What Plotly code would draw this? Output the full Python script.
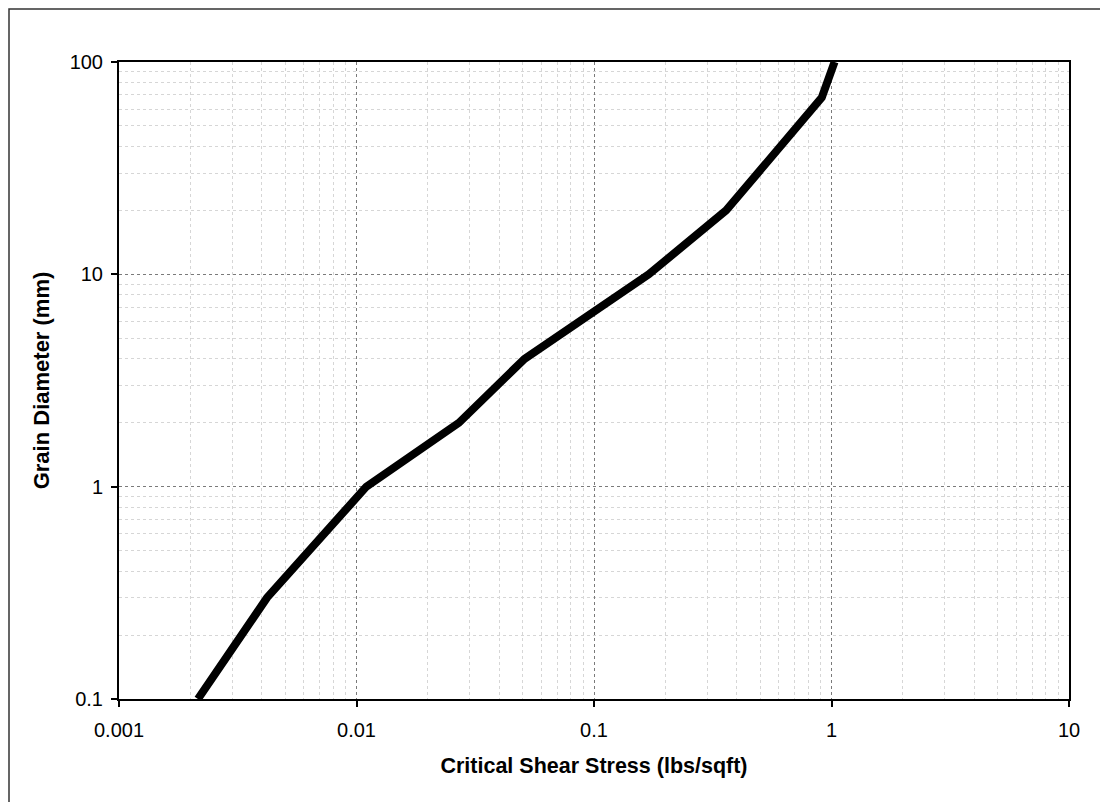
import plotly.graph_objects as go

# Critical shear stress (lbs/sqft) vs grain diameter (mm)
shear_stress = [0.00215, 0.0033, 0.0042, 0.011, 0.027, 0.051, 0.17, 0.36, 0.91, 1.03]
grain_diameter = [0.1, 0.2, 0.3, 1.0, 2.0, 4.0, 10.0, 20.0, 68.0, 100.0]

x_ticks = [0.001, 0.01, 0.1, 1, 10]
x_tick_labels = ["0.001", "0.01", "0.1", "1", "10"]
y_ticks = [0.1, 1, 10, 100]
y_tick_labels = ["0.1", "1", "10", "100"]

W, H = 1100, 794
L, T = 111, 54
pw, ph = 950, 637
R, B = W - L - pw, H - T - ph

fig = go.Figure()
fig.add_trace(go.Scatter(
    x=shear_stress, y=grain_diameter, mode="lines",
    line=dict(color="black", width=8), showlegend=False, cliponaxis=True,
))

font_family = "Liberation Sans, Arial, sans-serif"
axis_common = dict(
    type="log", showline=True, linecolor="black", linewidth=2, mirror=True,
    ticks="outside", ticklen=6, tickcolor="black", tickwidth=1.5,
    showgrid=True, gridcolor="#7a7a7a", griddash="dot", gridwidth=1,
    zeroline=False,
    tickfont=dict(family=font_family, size=20, color="black"),
    minor=dict(dtick="D1", showgrid=True, gridcolor="#d6d6d6", griddash="dot",
               gridwidth=1, ticks=""),
)

fig.update_xaxes(
    **axis_common,
    range=[-3, 1], tickvals=x_ticks, ticktext=x_tick_labels,
    ticklabelstandoff=6,
    title=dict(text="<b>Critical Shear Stress (lbs/sqft)</b>",
               font=dict(family=font_family, size=21.5, color="black"), standoff=18),
)
fig.update_yaxes(
    **axis_common,
    range=[-1, 2], tickvals=y_ticks, ticktext=y_tick_labels,
    ticklabelstandoff=4,
    title=dict(text="<b>Grain Diameter (mm)</b>",
               font=dict(family=font_family, size=22, color="black"), standoff=14),
)

# outer chart frame
fig.add_shape(type="rect", xref="paper", yref="paper",
              x0=(1 - L) / pw, x1=(W + 10 - L) / pw,
              y0=(T + ph - (H + 10)) / ph, y1=(T + ph - 1) / ph,
              line=dict(color="#333333", width=1.5), fillcolor="rgba(0,0,0,0)",
              layer="below")

fig.update_layout(
    width=W, height=H, autosize=False,
    margin=dict(l=L, r=R, t=T, b=B),
    paper_bgcolor="white", plot_bgcolor="white",
    font=dict(family=font_family, color="black"),
)

fig.write_html("out.html")
